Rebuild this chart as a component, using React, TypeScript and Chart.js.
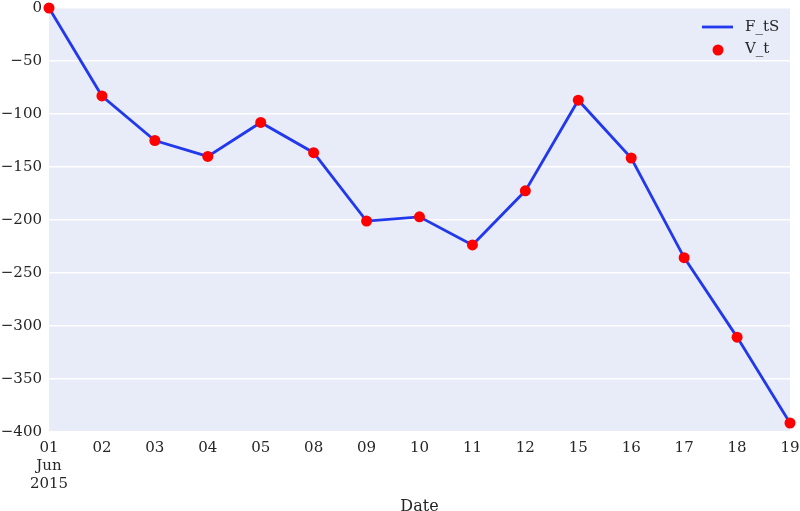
import React, { useEffect, useRef } from "react";
import { Chart, registerables } from "chart.js";

Chart.register(...registerables);

const dates = ["01", "02", "03", "04", "05", "08", "09", "10", "11", "12", "15", "16", "17", "18", "19"];
const firstLabel = ["01", "Jun", "2015"];
const ftsValues = [0, -83, -125, -140, -108, -136.5, -201, -197, -223.5, -172.5, -87, -141.5, -235.5, -310.5, -391.5];
const vtValues = [0, -83, -125, -140, -108, -136.5, -201, -197, -223.5, -172.5, -87, -141.5, -235.5, -310.5, -391.5];
const yTicks = [0, -50, -100, -150, -200, -250, -300, -350, -400];

const FONT = "'DejaVu Serif', serif";
const BLUE = "#2238ec";
const RED = "#ff0000";

const legendPlugin = {
  id: "insideLegend",
  afterDraw(chart: any) {
    const ctx = chart.ctx;
    const area = chart.chartArea;
    ctx.save();
    const x0 = area.right - 88;
    ctx.strokeStyle = BLUE;
    ctx.lineWidth = 2.8;
    ctx.beginPath();
    ctx.moveTo(x0, 27);
    ctx.lineTo(x0 + 31, 27);
    ctx.stroke();
    ctx.fillStyle = RED;
    ctx.beginPath();
    ctx.arc(x0 + 16, 50, 5.5, 0, Math.PI * 2);
    ctx.fill();
    ctx.fillStyle = "#262626";
    ctx.font = "15px " + FONT;
    ctx.textBaseline = "middle";
    ctx.textAlign = "left";
    ctx.fillText(chart.data.datasets[0].label, x0 + 43, 27);
    ctx.fillText(chart.data.datasets[1].label, x0 + 43, 49);
    ctx.restore();
  },
};

const bgPlugin = {
  id: "bgArea",
  beforeDraw(chart: any) {
    const { ctx, chartArea } = chart;
    ctx.save();
    ctx.fillStyle = "#e8ebf8";
    ctx.fillRect(chartArea.left, chartArea.top, chartArea.right - chartArea.left, chartArea.bottom - chartArea.top);
    ctx.restore();
  },
};

export default function App() {
  const ref = useRef<HTMLCanvasElement>(null);
  useEffect(() => {
    document.body.style.margin = "0";
    const labels = dates.map((d, i) => (i === 0 ? firstLabel : d));
    const chart = new Chart(ref.current!, {
      type: "line",
      data: {
        labels,
        datasets: [
          {
            label: "F_tS",
            data: ftsValues,
            borderColor: BLUE,
            borderWidth: 2.8,
            pointRadius: 0,
            fill: false,
            tension: 0,
            clip: false as any,
            order: 2,
          },
          {
            label: "V_t",
            data: vtValues,
            showLine: false,
            pointRadius: 5.5,
            pointBackgroundColor: RED,
            pointBorderColor: RED,
            pointBorderWidth: 0,
            clip: false as any,
            order: 1,
          },
        ],
      },
      options: {
        animation: false,
        responsive: false,
        devicePixelRatio: 1,
        layout: { padding: { top: 8, right: 10, left: 0, bottom: 0 } },
        plugins: { legend: { display: false }, tooltip: { enabled: false } },
        scales: {
          x: {
            type: "category",
            offset: false,
            grid: { display: false, drawTicks: false },
            border: { display: false },
            ticks: {
              color: "#262626",
              font: { family: FONT, size: 15 },
              padding: 7,
              maxRotation: 0,
              autoSkip: false,
            },
            title: {
              display: true,
              text: "Date",
              color: "#262626",
              font: { family: FONT, size: 16 },
              padding: { top: 0, bottom: -5 },
            },
            afterFit(scale: any) {
              scale.height = 79;
              scale.paddingLeft = 0;
              scale.paddingRight = 0;
            },
          },
          y: {
            min: -400,
            max: 0,
            grid: { color: "#ffffff", lineWidth: 1.5, drawTicks: false },
            border: { display: false },
            afterBuildTicks(scale: any) {
              scale.ticks = yTicks.map((v) => ({ value: v }));
            },
            ticks: {
              color: "#262626",
              font: { family: FONT, size: 15 },
              padding: 7,
              callback: (v: any) => String(v).replace("-", "\u2212"),
            },
            afterFit(scale: any) {
              scale.width = 49;
              scale.paddingTop = 0;
              scale.paddingBottom = 0;
            },
          },
        },
      },
      plugins: [bgPlugin, legendPlugin],
    });
    return () => chart.destroy();
  }, []);
  return <canvas ref={ref} width={800} height={511} style={{ display: "block" }} />;
}
